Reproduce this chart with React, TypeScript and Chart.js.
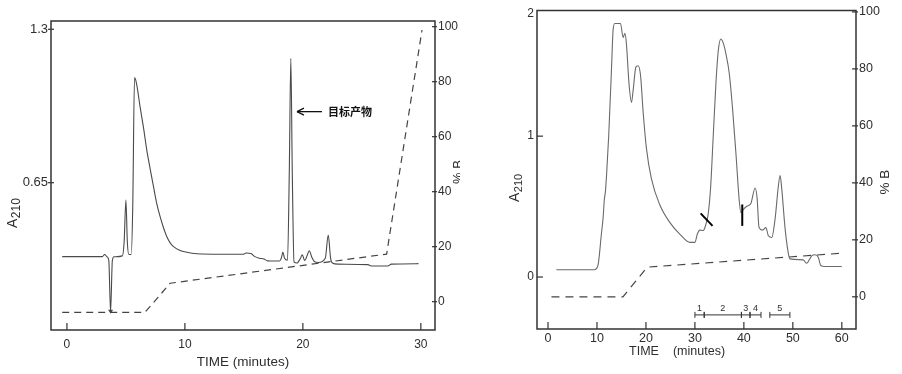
import { useEffect, useRef } from 'react';
import { Chart, registerables } from 'chart.js';
Chart.register(...registerables);

// ---------- LEFT PANEL DATA ----------
const leftTime = [-0.4, 3.0, 3.2, 3.4, 3.55, 3.7, 3.85, 4.0, 4.7, 4.85, 5.0, 5.12, 5.25, 5.45, 5.58, 5.73, 5.9, 6.2, 6.5, 6.77, 7.05, 7.34, 7.6, 7.9, 8.2, 8.47, 8.75, 9.04, 9.5, 10.17, 11.0, 13.0, 14.9, 15.2, 15.6, 15.9, 16.3, 16.7, 17.0, 17.6, 18.0, 18.2, 18.3, 18.45, 18.7, 18.85, 18.98, 19.1, 19.25, 19.5, 19.8, 19.95, 20.15, 20.35, 20.55, 20.75, 21.0, 21.3, 21.9, 22.15, 22.35, 22.5, 23.0, 25.5, 25.8, 27.2, 27.5, 29.8];
const leftA = [0.337, 0.337, 0.346, 0.336, 0.32, 0.103, 0.32, 0.336, 0.34, 0.40, 0.577, 0.40, 0.346, 0.346, 0.55, 1.095, 1.07, 0.972, 0.88, 0.788, 0.71, 0.633, 0.565, 0.506, 0.457, 0.421, 0.395, 0.379, 0.365, 0.355, 0.349, 0.347, 0.347, 0.352, 0.35, 0.338, 0.33, 0.327, 0.319, 0.318, 0.318, 0.335, 0.356, 0.33, 0.322, 0.70, 1.177, 0.70, 0.315, 0.31, 0.33, 0.345, 0.32, 0.34, 0.362, 0.335, 0.315, 0.312, 0.33, 0.428, 0.33, 0.31, 0.305, 0.303, 0.297, 0.297, 0.305, 0.307];
const leftGradTime = [-0.4, 6.6, 7.2, 8.75, 27.1, 30.1];
const leftGradB = [-3.9, -3.9, -1.0, 6.7, 17.3, 98.8];
const leftXTicks = [0, 10, 20, 30];
const leftATicks = [0.65, 1.3];
const leftATickLabels = ['0.65', '1.3'];
const leftBTicks = [0, 20, 40, 60, 80, 100];
const targetLabel = '目标产物';
const targetTime = 19.5;
const targetA = 0.951;
const injectTime = 3.7;
const injectA = 0.103;

// ---------- RIGHT PANEL DATA ----------
const rightTime = [1.7, 9.5, 10.2, 10.9, 11.25, 11.5, 11.73, 12.0, 12.4, 12.96, 13.3, 13.64, 14.8, 15.34, 15.7, 16.0, 16.57, 17.05, 17.4, 17.94, 18.4, 18.9, 19.43, 20.1, 21.1, 22.8, 24.9, 26.9, 29.0, 30.0, 30.5, 31.0, 31.7, 32.25, 32.7, 33.2, 33.75, 34.3, 34.8, 35.3, 35.8, 36.3, 37.0, 37.7, 38.4, 39.06, 39.4, 39.9, 40.6, 41.4, 42.3, 42.7, 43.1, 43.8, 44.5, 45.0, 45.7, 46.4, 47.0, 47.4, 47.7, 48.4, 49.1, 49.4, 52.1, 52.8, 53.9, 54.5, 55.2, 55.7, 56.5, 60.0];
const rightA = [0.052, 0.052, 0.082, 0.305, 0.42, 0.55, 0.61, 0.75, 1.007, 1.475, 1.756, 1.80, 1.80, 1.70, 1.73, 1.66, 1.36, 1.24, 1.33, 1.49, 1.50, 1.43, 1.17, 0.913, 0.70, 0.515, 0.386, 0.305, 0.246, 0.246, 0.305, 0.333, 0.33, 0.375, 0.445, 0.632, 1.007, 1.38, 1.615, 1.69, 1.66, 1.59, 1.45, 1.19, 0.866, 0.54, 0.456, 0.48, 0.503, 0.52, 0.632, 0.56, 0.351, 0.333, 0.351, 0.293, 0.281, 0.42, 0.632, 0.721, 0.64, 0.351, 0.164, 0.129, 0.122, 0.098, 0.152, 0.158, 0.14, 0.082, 0.075, 0.075];
const rightGradTime = [0.7, 15.3, 20.25, 60.0];
const rightGradB = [0, 0, 10.4, 15.3];
const rightXTicks = [0, 10, 20, 30, 40, 50, 60];
const rightATicks = [0, 1];
const rightATopLabel = '2';
const rightBTicks = [0, 20, 40, 60, 80, 100];
const fractionLabels = ['1', '2', '3', '4', '5'];
const fractionStart = [30.0, 31.9, 39.5, 41.25, 45.3];
const fractionEnd = [31.9, 39.5, 41.25, 43.5, 49.4];
const fractionLevelB = -6.35;
const markStartT = [31.17, 39.67];
const markStartA = [0.452, 0.515];
const markEndT = [33.6, 39.67];
const markEndA = [0.363, 0.363];

const xTitleMain = 'TIME';
const xTitleUnit = '(minutes)';
const yTitleMain = 'A';
const yTitleSub = '210';
const y2Title = '% B';

const FONT = '"Liberation Sans", Arial, sans-serif';
const INK = '#2e2e2e';

function seg(ctx: CanvasRenderingContext2D, x1: number, y1: number, x2: number, y2: number) {
  ctx.beginPath();
  ctx.moveTo(x1, y1);
  ctx.lineTo(x2, y2);
  ctx.stroke();
}

function drawATitle(ctx: CanvasRenderingContext2D, cx: number, bottom: number, size: number, sub: number) {
  ctx.save();
  ctx.translate(cx, bottom);
  ctx.rotate(-Math.PI / 2);
  ctx.fillStyle = INK;
  ctx.textAlign = 'left';
  ctx.textBaseline = 'middle';
  ctx.font = `${size}px ${FONT}`;
  ctx.fillText(yTitleMain, 0, 0);
  const w = ctx.measureText(yTitleMain).width;
  ctx.font = `${sub}px ${FONT}`;
  ctx.fillText(yTitleSub, w + 0.5, 3.5);
  ctx.restore();
}

function drawRotated(ctx: CanvasRenderingContext2D, text: string, cx: number, cy: number, size: number) {
  ctx.save();
  ctx.translate(cx, cy);
  ctx.rotate(-Math.PI / 2);
  ctx.fillStyle = INK;
  ctx.textAlign = 'center';
  ctx.textBaseline = 'middle';
  ctx.font = `${size}px ${FONT}`;
  ctx.fillText(text, 0, 0);
  ctx.restore();
}

function drawFrameAndTicks(chart: any, yFrom: number, yTo: number, y2From: number, y2To: number, xLen: number) {
  const ctx: CanvasRenderingContext2D = chart.ctx;
  const { left, right, top, bottom } = chart.chartArea;
  ctx.save();
  ctx.strokeStyle = '#333';
  ctx.lineWidth = 1.5;
  ctx.strokeRect(left, top, right - left, bottom - top);
  ctx.lineWidth = 1.2;
  const sx = chart.scales.x;
  sx.ticks.forEach((t: any) => {
    const p = sx.getPixelForValue(t.value);
    seg(ctx, p, bottom - xLen, p, bottom);
  });
  const sy = chart.scales.y;
  sy.ticks.forEach((t: any) => {
    const p = sy.getPixelForValue(t.value);
    seg(ctx, left + yFrom, p, left + yTo, p);
  });
  const sy2 = chart.scales.y2;
  sy2.ticks.forEach((t: any) => {
    const p = sy2.getPixelForValue(t.value);
    seg(ctx, right + y2From, p, right + y2To, p);
  });
  ctx.restore();
}

const leftDeco = {
  id: 'leftDeco',
  afterDraw(chart: any) {
    const ctx: CanvasRenderingContext2D = chart.ctx;
    const { left, right, bottom } = chart.chartArea;
    drawFrameAndTicks(chart, -3, 3, -3, 2, 7);
    drawATitle(ctx, 13, 228, 14, 12);
    drawRotated(ctx, y2Title, right + 23, 172, 13);
    ctx.save();
    ctx.fillStyle = INK;
    ctx.font = `13.5px ${FONT}`;
    ctx.textAlign = 'center';
    ctx.textBaseline = 'middle';
    ctx.fillText(`${xTitleMain} ${xTitleUnit}`, (left + right) / 2 + 0, bottom + 32);
    // target arrow
    const px = chart.scales.x.getPixelForValue(targetTime);
    const py = chart.scales.y.getPixelForValue(targetA);
    ctx.strokeStyle = '#111';
    ctx.lineWidth = 1.3;
    seg(ctx, px, py, px + 25, py);
    seg(ctx, px, py, px + 7, py - 3.5);
    seg(ctx, px, py, px + 7, py + 3.5);
    ctx.fillStyle = '#111';
    ctx.textAlign = 'left';
    ctx.font = `bold 11px "Noto Sans CJK SC", sans-serif`;
    ctx.fillText(targetLabel, px + 31, py + 0.5);
    // injection mark
    const ix = chart.scales.x.getPixelForValue(injectTime);
    const iy = chart.scales.y.getPixelForValue(injectA);
    ctx.beginPath();
    ctx.moveTo(ix, iy + 2);
    ctx.lineTo(ix - 2.5, iy - 2);
    ctx.lineTo(ix + 2.5, iy - 2);
    ctx.closePath();
    ctx.fillStyle = '#444';
    ctx.fill();
    ctx.restore();
  },
};

const rightDeco = {
  id: 'rightDeco',
  afterDraw(chart: any) {
    const ctx: CanvasRenderingContext2D = chart.ctx;
    const { left, right, top, bottom } = chart.chartArea;
    drawFrameAndTicks(chart, 0, 6, -4, 2, 7);
    ctx.save();
    ctx.fillStyle = INK;
    ctx.font = `12px ${FONT}`;
    ctx.textAlign = 'right';
    ctx.textBaseline = 'middle';
    ctx.fillText(rightATopLabel, left - 3, top + 3);
    ctx.restore();
    drawATitle(ctx, 55, 202, 14, 11);
    drawRotated(ctx, y2Title, right + 29, 182, 13.5);
    ctx.save();
    ctx.fillStyle = INK;
    ctx.font = `12.5px ${FONT}`;
    ctx.textAlign = 'center';
    ctx.textBaseline = 'middle';
    ctx.fillText(xTitleMain, 184, bottom + 23);
    ctx.fillText(xTitleUnit, 239, bottom + 23);
    // fraction brackets
    const sx = chart.scales.x;
    const fy = chart.scales.y2.getPixelForValue(fractionLevelB);
    ctx.strokeStyle = '#333';
    ctx.lineWidth = 1;
    ctx.font = `9px ${FONT}`;
    ctx.textBaseline = 'bottom';
    fractionLabels.forEach((lab, i) => {
      const xs = sx.getPixelForValue(fractionStart[i]);
      const xe = sx.getPixelForValue(fractionEnd[i]);
      seg(ctx, xs, fy, xe, fy);
      seg(ctx, xs, fy - 3, xs, fy + 3);
      seg(ctx, xe, fy - 3, xe, fy + 3);
      ctx.fillText(lab, (xs + xe) / 2, fy - 2);
    });
    // cut marks
    const sy = chart.scales.y;
    ctx.strokeStyle = '#000';
    ctx.lineWidth = 2;
    markStartT.forEach((t, i) => {
      seg(ctx, sx.getPixelForValue(t), sy.getPixelForValue(markStartA[i]), sx.getPixelForValue(markEndT[i]), sy.getPixelForValue(markEndA[i]));
    });
    ctx.restore();
  },
};

function tickOpts(padding: number, size = 12) {
  return { font: { family: FONT, size }, color: INK, padding, autoSkip: false, maxRotation: 0 };
}

function makeConfig(p: any) {
  return {
    type: 'line',
    data: {
      datasets: [
        {
          data: p.gradT.map((t: number, i: number) => ({ x: t, y: p.gradB[i] })),
          yAxisID: 'y2',
          borderColor: '#444',
          borderWidth: 1.2,
          borderDash: p.dash,
          pointRadius: 0,
          tension: 0,
        },
        {
          data: p.traceT.map((t: number, i: number) => ({ x: t, y: p.traceA[i] })),
          yAxisID: 'y',
          borderColor: p.traceColor,
          borderWidth: 1.1,
          pointRadius: 0,
          cubicInterpolationMode: 'monotone',
        },
      ],
    },
    options: {
      responsive: false,
      animation: false,
      events: [],
      layout: { padding: { top: p.padTop, left: 0, right: 0, bottom: 0 } },
      plugins: { legend: { display: false }, tooltip: { enabled: false }, title: { display: false } },
      scales: {
        x: {
          type: 'linear',
          min: p.xMin,
          max: p.xMax,
          afterBuildTicks: (ax: any) => { ax.ticks = p.xTicks.map((v: number) => ({ value: v })); },
          afterFit: (ax: any) => { ax.height = p.xH; },
          grid: { display: false, drawTicks: false },
          border: { display: false },
          ticks: { ...tickOpts(p.xPad, p.xFont), callback: (v: number) => String(v) },
        },
        y: {
          type: 'linear',
          position: 'left',
          min: p.aMin,
          max: p.aMax,
          afterBuildTicks: (ax: any) => { ax.ticks = p.aTicks.map((v: number) => ({ value: v })); },
          afterFit: (ax: any) => { ax.width = p.yW; },
          grid: { display: false, drawTicks: false },
          border: { display: false },
          ticks: { ...tickOpts(p.yPad, p.yFont), callback: (_v: number, i: number) => p.aLabels[i] },
        },
        y2: {
          type: 'linear',
          position: 'right',
          min: p.bMin,
          max: p.bMax,
          afterBuildTicks: (ax: any) => { ax.ticks = p.bTicks.map((v: number) => ({ value: v })); },
          afterFit: (ax: any) => { ax.width = p.y2W; },
          grid: { display: false, drawTicks: false },
          border: { display: false },
          ticks: { ...tickOpts(p.y2Pad, p.y2Font), callback: (v: number) => String(v) },
        },
      },
    },
    plugins: [p.deco],
  };
}

export default function App() {
  const leftRef = useRef<HTMLCanvasElement>(null);
  const rightRef = useRef<HTMLCanvasElement>(null);
  useEffect(() => {
    const c1 = new Chart(leftRef.current as HTMLCanvasElement, makeConfig({
      gradT: leftGradTime, gradB: leftGradB, traceT: leftTime, traceA: leftA,
      dash: [7, 5], traceColor: '#4a4a4a', padTop: 21,
      xMin: -1.35, xMax: 31.2, xTicks: leftXTicks, xH: 44, xPad: 7, xFont: 12,
      aMin: 0.026, aMax: 1.335, aTicks: leftATicks, aLabels: leftATickLabels, yW: 51, yPad: 3, yFont: 13,
      bMin: -10.3, bMax: 102.07, bTicks: leftBTicks, y2W: 25, y2Pad: 3, y2Font: 12,
      deco: leftDeco,
    }) as any);
    const c2 = new Chart(rightRef.current as HTMLCanvasElement, makeConfig({
      gradT: rightGradTime, gradB: rightGradB, traceT: rightTime, traceA: rightA,
      dash: [8, 6], traceColor: '#6a6a6a', padTop: 7,
      xMin: -2.25, xMax: 62.9, xTicks: rightXTicks, xH: 45, xPad: 2, xFont: 12.5,
      aMin: -0.369, aMax: 1.892, aTicks: rightATicks, aLabels: rightATicks.map(String), yW: 77, yPad: 3, yFont: 12,
      bMin: -11.3, bMax: 100.5, bTicks: rightBTicks, y2W: 46, y2Pad: 3, y2Font: 12.5,
      deco: rightDeco,
    }) as any);
    return () => { c1.destroy(); c2.destroy(); };
  }, []);
  return (
    <div style={{ position: 'fixed', left: 0, top: 0, width: 902, height: 374, background: '#fff', overflow: 'hidden' }}>
      <canvas ref={leftRef} width={460} height={374} style={{ position: 'absolute', left: 0, top: 0 }} />
      <canvas ref={rightRef} width={442} height={374} style={{ position: 'absolute', left: 460, top: 0 }} />
    </div>
  );
}
